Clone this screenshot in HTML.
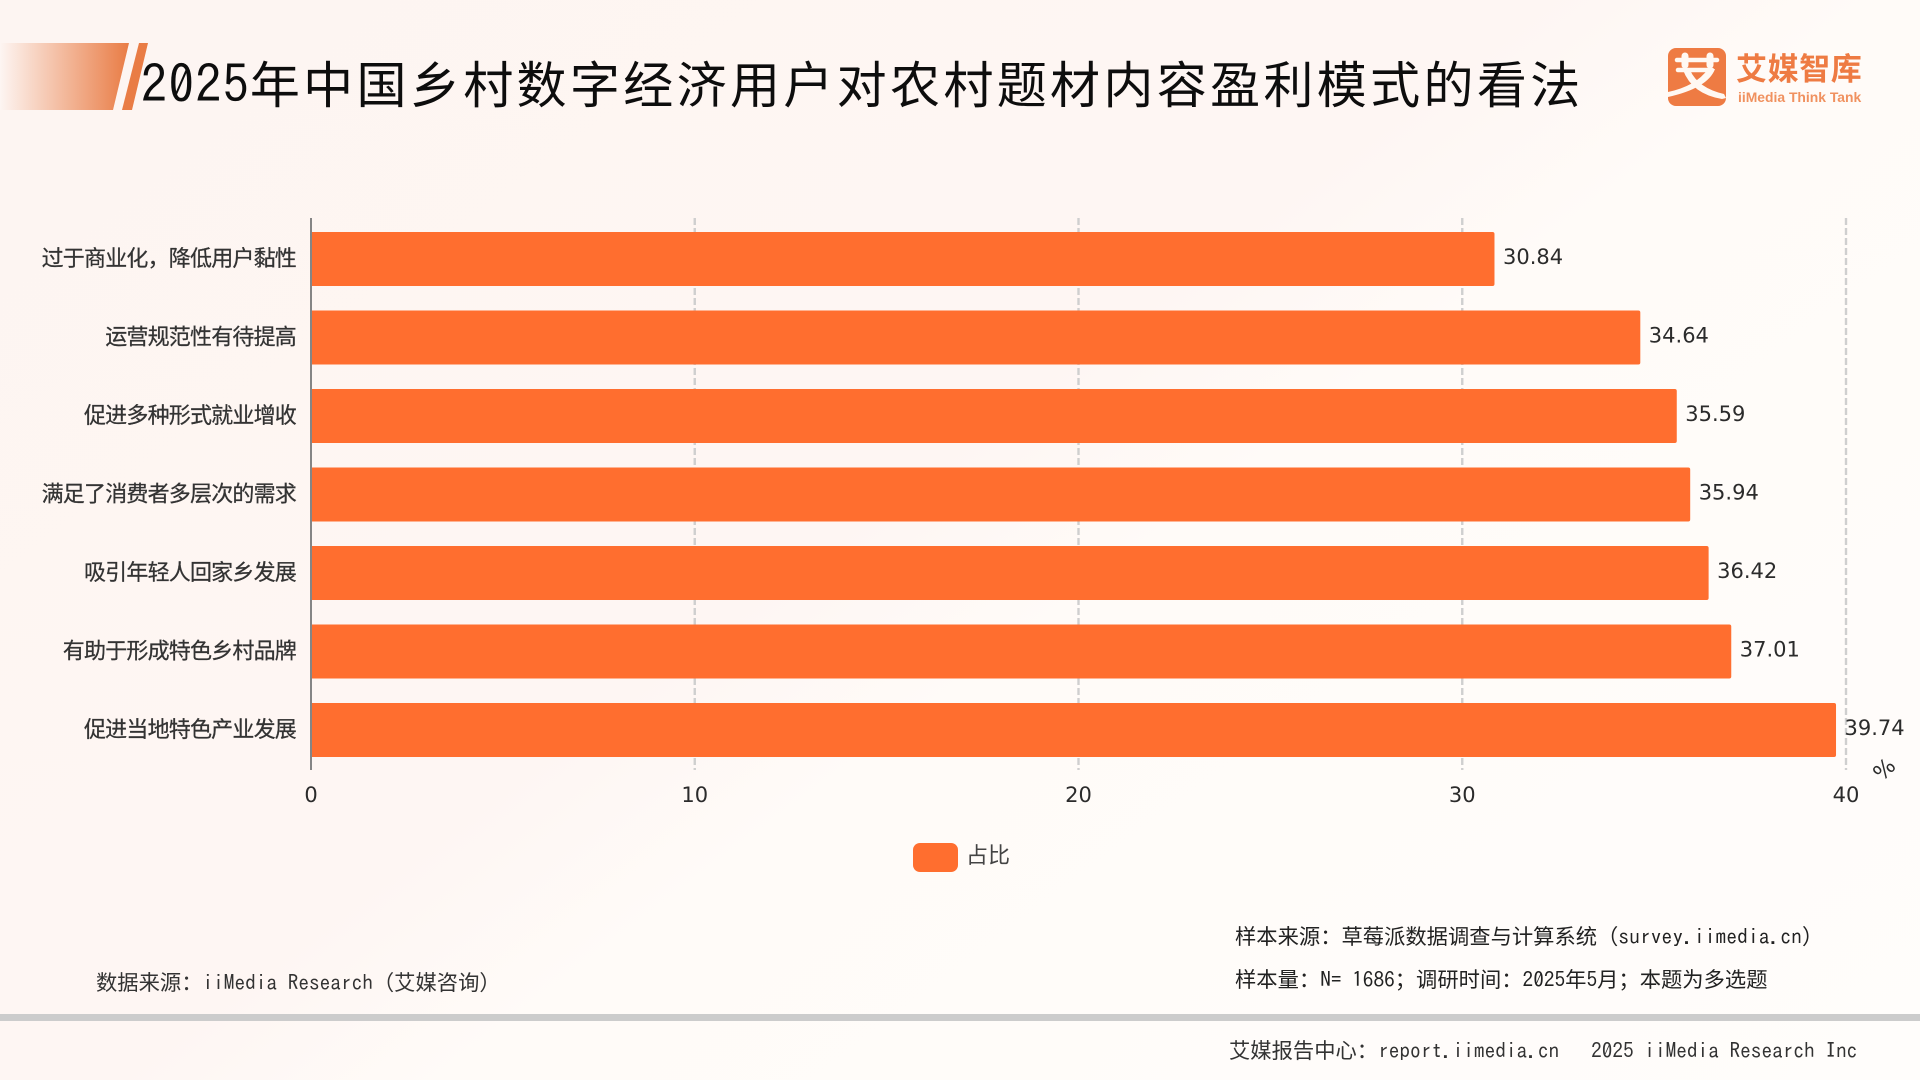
<!DOCTYPE html>
<html lang="zh">
<head>
<meta charset="utf-8">
<title>2025年中国乡村数字经济用户对农村题材内容盈利模式的看法</title>
<style>
html,body{margin:0;padding:0;width:1920px;height:1080px;overflow:hidden}
#page{position:relative;width:1920px;height:1080px;overflow:hidden;background:linear-gradient(143deg,#fdf5f2 0%,#fef6f3 46%,#fffbf8 56%,#fffdfb 100%);font-family:"Liberation Sans","Noto Sans CJK SC",sans-serif}
.t{position:absolute;white-space:pre;font-family:"Noto Sans CJK SC",sans-serif;color:#2b2b2b;font-size:21.3px;line-height:30px}
.m{font-family:"IPAGothic","Liberation Mono",monospace}
#title{left:141px;top:47px;font-size:50px;line-height:70px;letter-spacing:3.35px;color:#0d0d0d}
#title .m{font-size:52px;letter-spacing:1.2px}
svg{position:absolute;left:0;top:0}
</style>
</head>
<body>
<div id="page">
  <svg width="1920" height="1080">
    <defs>
      <linearGradient id="fade" x1="0" x2="1" y1="0" y2="0">
        <stop offset="0" stop-color="#e97c45" stop-opacity="0"/>
        <stop offset="1" stop-color="#e97c45"/>
      </linearGradient>
    </defs>
    <polygon points="0,43 129,43 113,110 0,110" fill="url(#fade)"/>
    <polygon points="139,43 148,43 132,110 122,110" fill="#e97c45"/>
  </svg>

  <div id="title" class="t"><span class="m">2025</span>年中国乡村数字经济用户对农村题材内容盈利模式的看法</div>

  <div>
    <svg width="1920" height="1080">
      <rect x="1668" y="48" width="58" height="58" rx="8" fill="#ee7b43"/>
      <g fill="none" stroke="#fff8f2" stroke-linecap="round">
        <path d="M1677 60 H1717" stroke-width="4.5"/>
        <path d="M1685 56 V65 M1710 56 V65" stroke-width="7"/>
        <path d="M1678 70 H1712" stroke-width="4.5"/>
      </g>
      <g fill="#fff8f2">
        <path d="M1708 69 H1715 Q1708 88 1668 97 V92 Q1696 86 1708 69Z"/>
        <path d="M1683 70 H1690 Q1698 88 1724 94 L1726 98 L1722 99 Q1692 94 1683 70Z"/>
      </g>
    </svg>
    <div class="t" style="left:1736px;top:45px;font-size:31px;line-height:44px;font-weight:700;letter-spacing:.6px;color:#ee7b43">艾媒智库</div>
    <div class="t" style="left:1738px;top:87px;font-family:'Liberation Sans',sans-serif;font-size:13.9px;line-height:20px;font-weight:700;color:#f0915f">iiMedia Think Tank</div>
  </div>

  <svg id="chart" width="1920" height="1080"></svg>

  <div>
    <div style="position:absolute;left:913px;top:843px;width:45px;height:29px;border-radius:7px;background:#ff6e2f"></div>
    <div class="t" style="left:966px;top:839px;color:#444;font-size:22px">占比</div>
  </div>

  <div class="t" style="left:96px;top:967px;color:#333">数据来源：<span class="m">iiMedia Research</span>（艾媒咨询）</div>
  <div class="t" style="left:1235px;top:921px;color:#222">样本来源：草莓派数据调查与计算系统（<span class="m" style="letter-spacing:.15px">survey.iimedia.cn</span>）</div>
  <div class="t" style="left:1235px;top:964px;color:#222">样本量：<span class="m">N= 1686</span>；调研时间：<span class="m">2025</span>年<span class="m">5</span>月；本题为多选题</div>
  <div style="position:absolute;left:0;top:1014px;width:1920px;height:7px;background:#cccccc"></div>
  <div class="t" style="left:1229px;top:1035px;color:#333">艾媒报告中心：<span class="m">report.iimedia.cn   2025 iiMedia Research Inc</span></div>
</div>

<script>
const categories = ["过于商业化，降低用户黏性","运营规范性有待提高","促进多种形式就业增收","满足了消费者多层次的需求","吸引年轻人回家乡发展","有助于形成特色乡村品牌","促进当地特色产业发展"];
const shareValues = [30.84,34.64,35.59,35.94,36.42,37.01,39.74];
const xTickValues = [0,10,20,30,40];
const xUnit = "%";

const svgNS = "http://www.w3.org/2000/svg";
const chart = document.getElementById("chart");
const plot = {left:311, right:1846, top:219.75, bottom:769.25};
const xMax = xTickValues[xTickValues.length-1];
const xScale = v => plot.left + (plot.right-plot.left)*v/xMax;
const bandHeight = (plot.bottom-plot.top)/categories.length;
const yCenter = i => plot.top + bandHeight*(i+0.5);
const barHeight = 54;
const sans = '"DejaVu Sans",sans-serif';
const cjk = '"Noto Sans CJK SC",sans-serif';

function make(tag, props, text){
  const el = document.createElementNS(svgNS, tag);
  for(const k in props) el.setAttribute(k, props[k]);
  if(text !== undefined) el.textContent = text;
  chart.appendChild(el);
  return el;
}

xTickValues.forEach(t => {
  if(t === 0) return;
  const g = make("line",{x1:xScale(t),x2:xScale(t),y1:218,y2:770,stroke:"#cfcfcf","stroke-width":2.4,"stroke-dasharray":"7 3"});
  
  
});

categories.forEach((c,i) => {
  const v = shareValues[i];
  const x0 = xScale(0), x1 = xScale(v), y0 = yCenter(i)-barHeight/2, y1 = y0+barHeight, r = 2;
  const bar = make("path",{d:`M${x0} ${y0}H${x1-r}Q${x1} ${y0} ${x1} ${y0+r}V${y1-r}Q${x1} ${y1} ${x1-r} ${y1}H${x0}Z`,fill:"#ff6e2f"});
  
  

  const lab = make("text",{x:296,y:yCenter(i)-2.2,"text-anchor":"end","dominant-baseline":"central","font-family":cjk,"font-size":22,"letter-spacing":-0.8,fill:"#333",stroke:"#333","stroke-width":0.25},c);
  
  

  const val = make("text",{x:x1+8.5,y:yCenter(i)-2,"dominant-baseline":"central","font-family":sans,"font-size":21,fill:"#2b2b2b"},v.toFixed(2));
  
  
});

const axis = make("line",{x1:xScale(0),x2:xScale(0),y1:218,y2:770,stroke:"#858585","stroke-width":2});



xTickValues.forEach(t => {
  const tick = make("text",{x:xScale(t),y:795,"text-anchor":"middle","dominant-baseline":"central","font-family":sans,"font-size":21,fill:"#2b2b2b"},String(t));
  
  
});

const unit = make("text",{x:1885,y:770,"text-anchor":"middle","dominant-baseline":"central","font-family":sans,"font-size":22,fill:"#2b2b2b",transform:"rotate(-45 1885 770)"},xUnit);


</script>
</body>
</html>
